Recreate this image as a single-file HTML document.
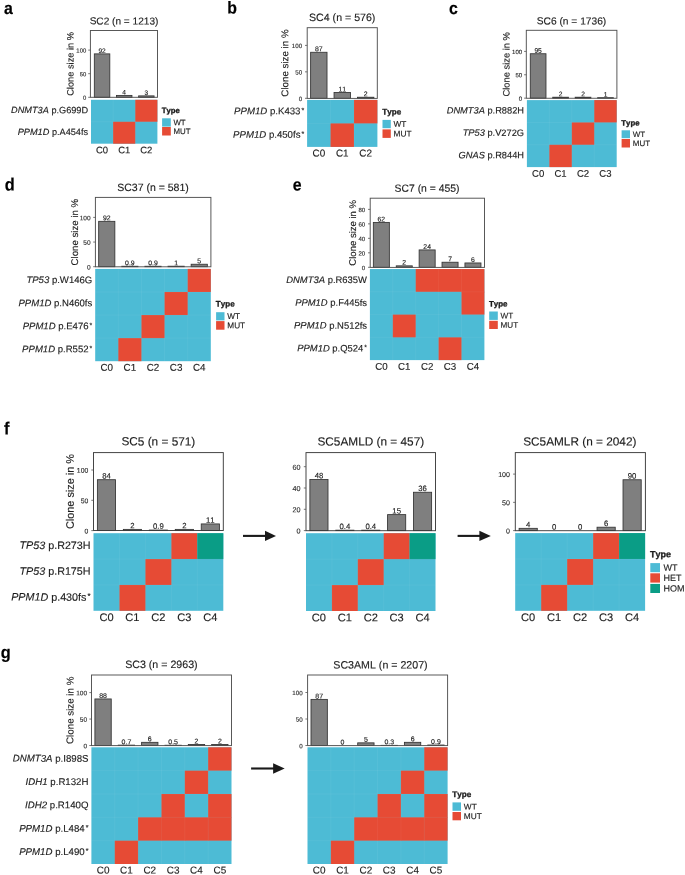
<!DOCTYPE html>
<html><head><meta charset="utf-8"><title>Figure</title>
<style>
html,body{margin:0;padding:0;background:#fff;}
svg{display:block;font-family:"Liberation Sans", sans-serif;}
text{text-rendering:geometricPrecision;stroke-linejoin:round;white-space:pre;filter:brightness(1);font-kerning:none;}
</style></head><body>
<svg width="685" height="875" viewBox="0 0 685 875">
<rect width="685" height="875" fill="#fff"/>
<text transform="translate(3.90,14.00) rotate(0.05) scale(0.96,1.04)" font-size="16.50" fill="#000" stroke="#000" stroke-width="0.19"><tspan font-weight="bold">a</tspan></text>
<text transform="translate(124.00,24.40) rotate(0.05)" font-size="10.10" text-anchor="middle" fill="#1c1c1c" stroke="#1c1c1c" stroke-width="0.14">SC2 (n = 1213)</text>
<rect x="91" y="99.8" width="66.4" height="43.9" fill="#4DBBD5"/>
<rect x="135.27" y="99.8" width="22.13" height="21.95" fill="#E64B35"/>
<rect x="113.13" y="121.75" width="22.13" height="21.95" fill="#E64B35"/>
<line x1="113.13" y1="99.8" x2="113.13" y2="143.7" stroke="#fff" stroke-opacity="0.05" stroke-width="1"/>
<line x1="135.27" y1="99.8" x2="135.27" y2="143.7" stroke="#fff" stroke-opacity="0.05" stroke-width="1"/>
<line x1="91" y1="121.75" x2="157.4" y2="121.75" stroke="#fff" stroke-opacity="0.05" stroke-width="1"/>
<rect x="94.32" y="53.88" width="15.49" height="43.42" fill="#7f7f7f" stroke="#333" stroke-width="0.85"/>
<text transform="translate(102.07,52.88) rotate(0.05)" font-size="6.61" text-anchor="middle" fill="#1c1c1c" stroke="#1c1c1c" stroke-width="0.14">92</text>
<rect x="116.45" y="95.41" width="15.49" height="1.89" fill="#7f7f7f" stroke="#333" stroke-width="0.85"/>
<text transform="translate(124.20,94.41) rotate(0.05)" font-size="6.61" text-anchor="middle" fill="#1c1c1c" stroke="#1c1c1c" stroke-width="0.14">4</text>
<rect x="138.59" y="95.88" width="15.49" height="1.42" fill="#7f7f7f" stroke="#333" stroke-width="0.85"/>
<text transform="translate(146.33,94.88) rotate(0.05)" font-size="6.61" text-anchor="middle" fill="#1c1c1c" stroke="#1c1c1c" stroke-width="0.14">3</text>
<rect x="90.4" y="30.5" width="67.1" height="66.8" fill="none" stroke="#505050" stroke-width="0.95"/>
<line x1="88.2" y1="97.3" x2="90.4" y2="97.3" stroke="#555" stroke-width="0.8"/>
<text transform="translate(86.20,99.82) rotate(0.05)" font-size="5.90" text-anchor="end" fill="#2e2e2e" stroke="#2e2e2e" stroke-width="0.14">0</text>
<line x1="88.2" y1="73.7" x2="90.4" y2="73.7" stroke="#555" stroke-width="0.8"/>
<text transform="translate(86.20,76.22) rotate(0.05)" font-size="5.90" text-anchor="end" fill="#2e2e2e" stroke="#2e2e2e" stroke-width="0.14">50</text>
<line x1="88.2" y1="50.1" x2="90.4" y2="50.1" stroke="#555" stroke-width="0.8"/>
<text transform="translate(86.20,52.62) rotate(0.05)" font-size="5.90" text-anchor="end" fill="#2e2e2e" stroke="#2e2e2e" stroke-width="0.14">100</text>
<text transform="translate(73.60,63.90) rotate(-89.95)" font-size="9.27" text-anchor="middle" fill="#1c1c1c" stroke="#1c1c1c" stroke-width="0.14">Clone size in %</text>
<text transform="translate(88.10,113.17) rotate(0.05)" font-size="9.18" text-anchor="end" fill="#1c1c1c" stroke="#1c1c1c" stroke-width="0.14"><tspan font-style="italic">DNMT3A</tspan> p.G699D</text>
<text transform="translate(88.10,135.12) rotate(0.05)" font-size="9.18" text-anchor="end" fill="#1c1c1c" stroke="#1c1c1c" stroke-width="0.14"><tspan font-style="italic">PPM1D</tspan> p.A454fs</text>
<text transform="translate(102.07,153.30) rotate(0.05)" font-size="9.46" text-anchor="middle" fill="#1c1c1c" stroke="#1c1c1c" stroke-width="0.14">C0</text>
<text transform="translate(124.20,153.30) rotate(0.05)" font-size="9.46" text-anchor="middle" fill="#1c1c1c" stroke="#1c1c1c" stroke-width="0.14">C1</text>
<text transform="translate(146.33,153.30) rotate(0.05)" font-size="9.46" text-anchor="middle" fill="#1c1c1c" stroke="#1c1c1c" stroke-width="0.14">C2</text>
<text transform="translate(161.85,113.00) rotate(0.05)" font-size="7.71" fill="#1c1c1c" stroke="#1c1c1c" stroke-width="0.34"><tspan font-weight="bold">Type</tspan></text>
<rect x="162.1" y="118.3" width="8.7" height="8.3" fill="#4DBBD5"/>
<text transform="translate(173.40,125.13) rotate(0.05)" font-size="7.89" fill="#1c1c1c" stroke="#1c1c1c" stroke-width="0.14">WT</text>
<rect x="162.1" y="127" width="8.7" height="8.5" fill="#E64B35"/>
<text transform="translate(173.40,133.93) rotate(0.05)" font-size="7.89" fill="#1c1c1c" stroke="#1c1c1c" stroke-width="0.14">MUT</text>
<text transform="translate(227.30,13.60) rotate(0.05) scale(0.96,1.04)" font-size="16.50" fill="#000" stroke="#000" stroke-width="0.19"><tspan font-weight="bold">b</tspan></text>
<text transform="translate(342.20,21.10) rotate(0.05)" font-size="10.62" text-anchor="middle" fill="#1c1c1c" stroke="#1c1c1c" stroke-width="0.14">SC4 (n = 576)</text>
<rect x="307.1" y="99.9" width="70.3" height="47" fill="#4DBBD5"/>
<rect x="353.97" y="99.9" width="23.43" height="23.5" fill="#E64B35"/>
<rect x="330.53" y="123.4" width="23.43" height="23.5" fill="#E64B35"/>
<line x1="330.53" y1="99.9" x2="330.53" y2="146.9" stroke="#fff" stroke-opacity="0.05" stroke-width="1"/>
<line x1="353.97" y1="99.9" x2="353.97" y2="146.9" stroke="#fff" stroke-opacity="0.05" stroke-width="1"/>
<line x1="307.1" y1="123.4" x2="377.4" y2="123.4" stroke="#fff" stroke-opacity="0.05" stroke-width="1"/>
<rect x="310.62" y="52.28" width="16.4" height="46.02" fill="#7f7f7f" stroke="#333" stroke-width="0.85"/>
<text transform="translate(318.82,51.28) rotate(0.05)" font-size="6.95" text-anchor="middle" fill="#1c1c1c" stroke="#1c1c1c" stroke-width="0.14">87</text>
<rect x="334.05" y="92.48" width="16.4" height="5.82" fill="#7f7f7f" stroke="#333" stroke-width="0.85"/>
<text transform="translate(342.25,91.48) rotate(0.05)" font-size="6.95" text-anchor="middle" fill="#1c1c1c" stroke="#1c1c1c" stroke-width="0.14">11</text>
<rect x="357.48" y="97.24" width="16.4" height="1.06" fill="#7f7f7f" stroke="#333" stroke-width="0.85"/>
<text transform="translate(365.68,96.24) rotate(0.05)" font-size="6.95" text-anchor="middle" fill="#1c1c1c" stroke="#1c1c1c" stroke-width="0.14">2</text>
<rect x="307.2" y="27.7" width="70.1" height="70.7" fill="none" stroke="#505050" stroke-width="0.95"/>
<line x1="305" y1="98.3" x2="307.2" y2="98.3" stroke="#555" stroke-width="0.8"/>
<text transform="translate(302.20,100.93) rotate(0.05)" font-size="6.20" text-anchor="end" fill="#2e2e2e" stroke="#2e2e2e" stroke-width="0.14">0</text>
<line x1="305" y1="71.85" x2="307.2" y2="71.85" stroke="#555" stroke-width="0.8"/>
<text transform="translate(302.20,74.48) rotate(0.05)" font-size="6.20" text-anchor="end" fill="#2e2e2e" stroke="#2e2e2e" stroke-width="0.14">50</text>
<line x1="305" y1="45.4" x2="307.2" y2="45.4" stroke="#555" stroke-width="0.8"/>
<text transform="translate(302.20,48.03) rotate(0.05)" font-size="6.20" text-anchor="end" fill="#2e2e2e" stroke="#2e2e2e" stroke-width="0.14">100</text>
<text transform="translate(288.30,63.05) rotate(-89.95)" font-size="9.75" text-anchor="middle" fill="#1c1c1c" stroke="#1c1c1c" stroke-width="0.14">Clone size in %</text>
<text transform="translate(304.13,114.35) rotate(0.05)" font-size="9.65" text-anchor="end" fill="#1c1c1c" stroke="#1c1c1c" stroke-width="0.14"><tspan font-style="italic">PPM1D</tspan> p.K433<tspan dx="0.98" dy="-1.93" font-size="6.95">*</tspan></text>
<text transform="translate(304.13,137.85) rotate(0.05)" font-size="9.65" text-anchor="end" fill="#1c1c1c" stroke="#1c1c1c" stroke-width="0.14"><tspan font-style="italic">PPM1D</tspan> p.450fs<tspan dx="0.98" dy="-1.93" font-size="6.95">*</tspan></text>
<text transform="translate(318.82,156.50) rotate(0.05)" font-size="9.94" text-anchor="middle" fill="#1c1c1c" stroke="#1c1c1c" stroke-width="0.14">C0</text>
<text transform="translate(342.25,156.50) rotate(0.05)" font-size="9.94" text-anchor="middle" fill="#1c1c1c" stroke="#1c1c1c" stroke-width="0.14">C1</text>
<text transform="translate(365.68,156.50) rotate(0.05)" font-size="9.94" text-anchor="middle" fill="#1c1c1c" stroke="#1c1c1c" stroke-width="0.14">C2</text>
<text transform="translate(382.25,114.40) rotate(0.05)" font-size="8.11" fill="#1c1c1c" stroke="#1c1c1c" stroke-width="0.34"><tspan font-weight="bold">Type</tspan></text>
<rect x="382.5" y="119.9" width="8.3" height="8.3" fill="#4DBBD5"/>
<text transform="translate(393.50,126.87) rotate(0.05)" font-size="8.30" fill="#1c1c1c" stroke="#1c1c1c" stroke-width="0.14">WT</text>
<rect x="382.5" y="129.4" width="8.3" height="8.5" fill="#E64B35"/>
<text transform="translate(393.50,136.47) rotate(0.05)" font-size="8.30" fill="#1c1c1c" stroke="#1c1c1c" stroke-width="0.14">MUT</text>
<text transform="translate(449.00,14.10) rotate(0.05) scale(0.96,1.04)" font-size="16.50" fill="#000" stroke="#000" stroke-width="0.19"><tspan font-weight="bold">c</tspan></text>
<text transform="translate(571.50,24.40) rotate(0.05)" font-size="10.20" text-anchor="middle" fill="#1c1c1c" stroke="#1c1c1c" stroke-width="0.14">SC6 (n = 1736)</text>
<rect x="526.9" y="100.1" width="89.8" height="67" fill="#4DBBD5"/>
<rect x="594.25" y="100.1" width="22.45" height="22.33" fill="#E64B35"/>
<rect x="571.8" y="122.43" width="22.45" height="22.33" fill="#E64B35"/>
<rect x="549.35" y="144.77" width="22.45" height="22.33" fill="#E64B35"/>
<line x1="549.35" y1="100.1" x2="549.35" y2="167.1" stroke="#fff" stroke-opacity="0.05" stroke-width="1"/>
<line x1="571.8" y1="100.1" x2="571.8" y2="167.1" stroke="#fff" stroke-opacity="0.05" stroke-width="1"/>
<line x1="594.25" y1="100.1" x2="594.25" y2="167.1" stroke="#fff" stroke-opacity="0.05" stroke-width="1"/>
<line x1="526.9" y1="122.43" x2="616.7" y2="122.43" stroke="#fff" stroke-opacity="0.05" stroke-width="1"/>
<line x1="526.9" y1="144.77" x2="616.7" y2="144.77" stroke="#fff" stroke-opacity="0.05" stroke-width="1"/>
<rect x="530.27" y="53.74" width="15.72" height="44.41" fill="#7f7f7f" stroke="#333" stroke-width="0.85"/>
<text transform="translate(538.12,52.74) rotate(0.05)" font-size="6.67" text-anchor="middle" fill="#1c1c1c" stroke="#1c1c1c" stroke-width="0.14">95</text>
<rect x="552.72" y="97.22" width="15.72" height="0.94" fill="#7f7f7f" stroke="#333" stroke-width="0.85"/>
<text transform="translate(560.58,96.22) rotate(0.05)" font-size="6.67" text-anchor="middle" fill="#1c1c1c" stroke="#1c1c1c" stroke-width="0.14">2</text>
<rect x="575.17" y="97.22" width="15.72" height="0.94" fill="#7f7f7f" stroke="#333" stroke-width="0.85"/>
<text transform="translate(583.02,96.22) rotate(0.05)" font-size="6.67" text-anchor="middle" fill="#1c1c1c" stroke="#1c1c1c" stroke-width="0.14">2</text>
<rect x="597.62" y="97.68" width="15.72" height="0.47" fill="#7f7f7f" stroke="#333" stroke-width="0.85"/>
<text transform="translate(605.48,96.68) rotate(0.05)" font-size="6.67" text-anchor="middle" fill="#1c1c1c" stroke="#1c1c1c" stroke-width="0.14">1</text>
<rect x="526.3" y="30.3" width="90.6" height="67.95" fill="none" stroke="#505050" stroke-width="0.95"/>
<line x1="524.1" y1="98.15" x2="526.3" y2="98.15" stroke="#555" stroke-width="0.8"/>
<text transform="translate(522.10,100.71) rotate(0.05)" font-size="6.00" text-anchor="end" fill="#2e2e2e" stroke="#2e2e2e" stroke-width="0.14">0</text>
<line x1="524.1" y1="74.78" x2="526.3" y2="74.78" stroke="#555" stroke-width="0.8"/>
<text transform="translate(522.10,77.34) rotate(0.05)" font-size="6.00" text-anchor="end" fill="#2e2e2e" stroke="#2e2e2e" stroke-width="0.14">50</text>
<line x1="524.1" y1="51.4" x2="526.3" y2="51.4" stroke="#555" stroke-width="0.8"/>
<text transform="translate(522.10,53.96) rotate(0.05)" font-size="6.00" text-anchor="end" fill="#2e2e2e" stroke="#2e2e2e" stroke-width="0.14">100</text>
<text transform="translate(509.60,64.28) rotate(-89.95)" font-size="9.36" text-anchor="middle" fill="#1c1c1c" stroke="#1c1c1c" stroke-width="0.14">Clone size in %</text>
<text transform="translate(524.00,113.57) rotate(0.05)" font-size="9.27" text-anchor="end" fill="#1c1c1c" stroke="#1c1c1c" stroke-width="0.14"><tspan font-style="italic">DNMT3A</tspan> p.R882H</text>
<text transform="translate(524.00,135.90) rotate(0.05)" font-size="9.27" text-anchor="end" fill="#1c1c1c" stroke="#1c1c1c" stroke-width="0.14"><tspan font-style="italic">TP53</tspan> p.V272G</text>
<text transform="translate(524.00,158.23) rotate(0.05)" font-size="9.27" text-anchor="end" fill="#1c1c1c" stroke="#1c1c1c" stroke-width="0.14"><tspan font-style="italic">GNAS</tspan> p.R844H</text>
<text transform="translate(538.12,176.70) rotate(0.05)" font-size="9.55" text-anchor="middle" fill="#1c1c1c" stroke="#1c1c1c" stroke-width="0.14">C0</text>
<text transform="translate(560.58,176.70) rotate(0.05)" font-size="9.55" text-anchor="middle" fill="#1c1c1c" stroke="#1c1c1c" stroke-width="0.14">C1</text>
<text transform="translate(583.02,176.70) rotate(0.05)" font-size="9.55" text-anchor="middle" fill="#1c1c1c" stroke="#1c1c1c" stroke-width="0.14">C2</text>
<text transform="translate(605.48,176.70) rotate(0.05)" font-size="9.55" text-anchor="middle" fill="#1c1c1c" stroke="#1c1c1c" stroke-width="0.14">C3</text>
<text transform="translate(621.35,125.50) rotate(0.05)" font-size="7.79" fill="#1c1c1c" stroke="#1c1c1c" stroke-width="0.34"><tspan font-weight="bold">Type</tspan></text>
<rect x="621.6" y="130.3" width="8.4" height="7.9" fill="#4DBBD5"/>
<text transform="translate(632.80,136.96) rotate(0.05)" font-size="7.97" fill="#1c1c1c" stroke="#1c1c1c" stroke-width="0.14">WT</text>
<rect x="621.6" y="139" width="8.4" height="8.5" fill="#E64B35"/>
<text transform="translate(632.80,145.96) rotate(0.05)" font-size="7.97" fill="#1c1c1c" stroke="#1c1c1c" stroke-width="0.14">MUT</text>
<text transform="translate(4.80,190.40) rotate(0.05) scale(0.96,1.04)" font-size="17.00" fill="#000" stroke="#000" stroke-width="0.19"><tspan font-weight="bold">d</tspan></text>
<text transform="translate(153.00,191.10) rotate(0.05)" font-size="10.53" text-anchor="middle" fill="#1c1c1c" stroke="#1c1c1c" stroke-width="0.14">SC37 (n = 581)</text>
<rect x="95.2" y="268.9" width="115.6" height="92.3" fill="#4DBBD5"/>
<rect x="187.68" y="268.9" width="23.12" height="23.08" fill="#E64B35"/>
<rect x="164.56" y="291.97" width="23.12" height="23.08" fill="#E64B35"/>
<rect x="141.44" y="315.05" width="23.12" height="23.08" fill="#E64B35"/>
<rect x="118.32" y="338.12" width="23.12" height="23.08" fill="#E64B35"/>
<line x1="118.32" y1="268.9" x2="118.32" y2="361.2" stroke="#fff" stroke-opacity="0.05" stroke-width="1"/>
<line x1="141.44" y1="268.9" x2="141.44" y2="361.2" stroke="#fff" stroke-opacity="0.05" stroke-width="1"/>
<line x1="164.56" y1="268.9" x2="164.56" y2="361.2" stroke="#fff" stroke-opacity="0.05" stroke-width="1"/>
<line x1="187.68" y1="268.9" x2="187.68" y2="361.2" stroke="#fff" stroke-opacity="0.05" stroke-width="1"/>
<line x1="95.2" y1="291.97" x2="210.8" y2="291.97" stroke="#fff" stroke-opacity="0.05" stroke-width="1"/>
<line x1="95.2" y1="315.05" x2="210.8" y2="315.05" stroke="#fff" stroke-opacity="0.05" stroke-width="1"/>
<line x1="95.2" y1="338.12" x2="210.8" y2="338.12" stroke="#fff" stroke-opacity="0.05" stroke-width="1"/>
<rect x="98.67" y="221.34" width="16.18" height="45.36" fill="#7f7f7f" stroke="#333" stroke-width="0.85"/>
<text transform="translate(106.76,220.34) rotate(0.05)" font-size="6.89" text-anchor="middle" fill="#1c1c1c" stroke="#1c1c1c" stroke-width="0.14">92</text>
<rect x="121.79" y="266.26" width="16.18" height="0.44" fill="#7f7f7f" stroke="#333" stroke-width="0.85"/>
<text transform="translate(129.88,265.26) rotate(0.05)" font-size="6.89" text-anchor="middle" fill="#1c1c1c" stroke="#1c1c1c" stroke-width="0.14">0.9</text>
<rect x="144.91" y="266.26" width="16.18" height="0.44" fill="#7f7f7f" stroke="#333" stroke-width="0.85"/>
<text transform="translate(153.00,265.26) rotate(0.05)" font-size="6.89" text-anchor="middle" fill="#1c1c1c" stroke="#1c1c1c" stroke-width="0.14">0.9</text>
<rect x="168.03" y="266.21" width="16.18" height="0.49" fill="#7f7f7f" stroke="#333" stroke-width="0.85"/>
<text transform="translate(176.12,265.21) rotate(0.05)" font-size="6.89" text-anchor="middle" fill="#1c1c1c" stroke="#1c1c1c" stroke-width="0.14">1</text>
<rect x="191.15" y="264.24" width="16.18" height="2.46" fill="#7f7f7f" stroke="#333" stroke-width="0.85"/>
<text transform="translate(199.24,263.24) rotate(0.05)" font-size="6.89" text-anchor="middle" fill="#1c1c1c" stroke="#1c1c1c" stroke-width="0.14">5</text>
<rect x="95.4" y="197.4" width="115.5" height="69.4" fill="none" stroke="#505050" stroke-width="0.95"/>
<line x1="93.2" y1="266.7" x2="95.4" y2="266.7" stroke="#555" stroke-width="0.8"/>
<text transform="translate(90.60,269.44) rotate(0.05)" font-size="6.50" text-anchor="end" fill="#2e2e2e" stroke="#2e2e2e" stroke-width="0.14">0</text>
<line x1="93.2" y1="242.05" x2="95.4" y2="242.05" stroke="#555" stroke-width="0.8"/>
<text transform="translate(90.60,244.79) rotate(0.05)" font-size="6.50" text-anchor="end" fill="#2e2e2e" stroke="#2e2e2e" stroke-width="0.14">50</text>
<line x1="93.2" y1="217.4" x2="95.4" y2="217.4" stroke="#555" stroke-width="0.8"/>
<text transform="translate(90.60,220.14) rotate(0.05)" font-size="6.50" text-anchor="end" fill="#2e2e2e" stroke="#2e2e2e" stroke-width="0.14">100</text>
<text transform="translate(78.00,232.10) rotate(-89.95)" font-size="9.67" text-anchor="middle" fill="#1c1c1c" stroke="#1c1c1c" stroke-width="0.14">Clone size in %</text>
<text transform="translate(92.30,283.14) rotate(0.05)" font-size="9.57" text-anchor="end" fill="#1c1c1c" stroke="#1c1c1c" stroke-width="0.14"><tspan font-style="italic">TP53</tspan> p.W146G</text>
<text transform="translate(92.30,306.21) rotate(0.05)" font-size="9.57" text-anchor="end" fill="#1c1c1c" stroke="#1c1c1c" stroke-width="0.14"><tspan font-style="italic">PPM1D</tspan> p.N460fs</text>
<text transform="translate(92.23,329.29) rotate(0.05)" font-size="9.57" text-anchor="end" fill="#1c1c1c" stroke="#1c1c1c" stroke-width="0.14"><tspan font-style="italic">PPM1D</tspan> p.E476<tspan dx="0.97" dy="-1.92" font-size="6.89">*</tspan></text>
<text transform="translate(92.23,352.36) rotate(0.05)" font-size="9.57" text-anchor="end" fill="#1c1c1c" stroke="#1c1c1c" stroke-width="0.14"><tspan font-style="italic">PPM1D</tspan> p.R552<tspan dx="0.97" dy="-1.92" font-size="6.89">*</tspan></text>
<text transform="translate(106.76,370.80) rotate(0.05)" font-size="9.86" text-anchor="middle" fill="#1c1c1c" stroke="#1c1c1c" stroke-width="0.14">C0</text>
<text transform="translate(129.88,370.80) rotate(0.05)" font-size="9.86" text-anchor="middle" fill="#1c1c1c" stroke="#1c1c1c" stroke-width="0.14">C1</text>
<text transform="translate(153.00,370.80) rotate(0.05)" font-size="9.86" text-anchor="middle" fill="#1c1c1c" stroke="#1c1c1c" stroke-width="0.14">C2</text>
<text transform="translate(176.12,370.80) rotate(0.05)" font-size="9.86" text-anchor="middle" fill="#1c1c1c" stroke="#1c1c1c" stroke-width="0.14">C3</text>
<text transform="translate(199.24,370.80) rotate(0.05)" font-size="9.86" text-anchor="middle" fill="#1c1c1c" stroke="#1c1c1c" stroke-width="0.14">C4</text>
<text transform="translate(215.85,306.40) rotate(0.05)" font-size="8.04" fill="#1c1c1c" stroke="#1c1c1c" stroke-width="0.34"><tspan font-weight="bold">Type</tspan></text>
<rect x="216.1" y="312.2" width="8.4" height="8.2" fill="#4DBBD5"/>
<text transform="translate(227.30,319.10) rotate(0.05)" font-size="8.23" fill="#1c1c1c" stroke="#1c1c1c" stroke-width="0.14">WT</text>
<rect x="216.1" y="321.1" width="8.4" height="8.6" fill="#E64B35"/>
<text transform="translate(227.30,328.20) rotate(0.05)" font-size="8.23" fill="#1c1c1c" stroke="#1c1c1c" stroke-width="0.14">MUT</text>
<text transform="translate(292.70,190.40) rotate(0.05) scale(0.96,1.04)" font-size="16.50" fill="#000" stroke="#000" stroke-width="0.19"><tspan font-weight="bold">e</tspan></text>
<text transform="translate(427.00,191.80) rotate(0.05)" font-size="10.39" text-anchor="middle" fill="#1c1c1c" stroke="#1c1c1c" stroke-width="0.14">SC7 (n = 455)</text>
<rect x="369.9" y="269.05" width="114.5" height="91.05" fill="#4DBBD5"/>
<rect x="415.7" y="269.05" width="23.4" height="22.76" fill="#E64B35"/>
<rect x="438.6" y="269.05" width="23.4" height="22.76" fill="#E64B35"/>
<rect x="461.5" y="269.05" width="22.9" height="23.26" fill="#E64B35"/>
<rect x="461.5" y="291.81" width="22.9" height="22.76" fill="#E64B35"/>
<rect x="392.8" y="314.58" width="22.9" height="22.76" fill="#E64B35"/>
<rect x="438.6" y="337.34" width="22.9" height="22.76" fill="#E64B35"/>
<line x1="392.8" y1="269.05" x2="392.8" y2="360.1" stroke="#fff" stroke-opacity="0.05" stroke-width="1"/>
<line x1="415.7" y1="269.05" x2="415.7" y2="360.1" stroke="#fff" stroke-opacity="0.05" stroke-width="1"/>
<line x1="438.6" y1="269.05" x2="438.6" y2="360.1" stroke="#fff" stroke-opacity="0.05" stroke-width="1"/>
<line x1="461.5" y1="269.05" x2="461.5" y2="360.1" stroke="#fff" stroke-opacity="0.05" stroke-width="1"/>
<line x1="369.9" y1="291.81" x2="484.4" y2="291.81" stroke="#fff" stroke-opacity="0.05" stroke-width="1"/>
<line x1="369.9" y1="314.58" x2="484.4" y2="314.58" stroke="#fff" stroke-opacity="0.05" stroke-width="1"/>
<line x1="369.9" y1="337.34" x2="484.4" y2="337.34" stroke="#fff" stroke-opacity="0.05" stroke-width="1"/>
<rect x="373.33" y="222.41" width="16.03" height="44.89" fill="#7f7f7f" stroke="#333" stroke-width="0.85"/>
<text transform="translate(381.35,221.41) rotate(0.05)" font-size="6.80" text-anchor="middle" fill="#1c1c1c" stroke="#1c1c1c" stroke-width="0.14">62</text>
<rect x="396.24" y="265.85" width="16.03" height="1.45" fill="#7f7f7f" stroke="#333" stroke-width="0.85"/>
<text transform="translate(404.25,264.85) rotate(0.05)" font-size="6.80" text-anchor="middle" fill="#1c1c1c" stroke="#1c1c1c" stroke-width="0.14">2</text>
<rect x="419.13" y="249.92" width="16.03" height="17.38" fill="#7f7f7f" stroke="#333" stroke-width="0.85"/>
<text transform="translate(427.15,248.92) rotate(0.05)" font-size="6.80" text-anchor="middle" fill="#1c1c1c" stroke="#1c1c1c" stroke-width="0.14">24</text>
<rect x="442.03" y="262.23" width="16.03" height="5.07" fill="#7f7f7f" stroke="#333" stroke-width="0.85"/>
<text transform="translate(450.05,261.23) rotate(0.05)" font-size="6.80" text-anchor="middle" fill="#1c1c1c" stroke="#1c1c1c" stroke-width="0.14">7</text>
<rect x="464.94" y="262.96" width="16.03" height="4.34" fill="#7f7f7f" stroke="#333" stroke-width="0.85"/>
<text transform="translate(472.95,261.96) rotate(0.05)" font-size="6.80" text-anchor="middle" fill="#1c1c1c" stroke="#1c1c1c" stroke-width="0.14">6</text>
<rect x="370.2" y="198.2" width="114.3" height="69.2" fill="none" stroke="#505050" stroke-width="0.95"/>
<line x1="368" y1="267.3" x2="370.2" y2="267.3" stroke="#555" stroke-width="0.8"/>
<text transform="translate(365.20,269.90) rotate(0.05)" font-size="6.10" text-anchor="end" fill="#2e2e2e" stroke="#2e2e2e" stroke-width="0.14">0</text>
<line x1="368" y1="252.82" x2="370.2" y2="252.82" stroke="#555" stroke-width="0.8"/>
<text transform="translate(365.20,255.42) rotate(0.05)" font-size="6.10" text-anchor="end" fill="#2e2e2e" stroke="#2e2e2e" stroke-width="0.14">20</text>
<line x1="368" y1="238.34" x2="370.2" y2="238.34" stroke="#555" stroke-width="0.8"/>
<text transform="translate(365.20,240.94) rotate(0.05)" font-size="6.10" text-anchor="end" fill="#2e2e2e" stroke="#2e2e2e" stroke-width="0.14">40</text>
<line x1="368" y1="223.86" x2="370.2" y2="223.86" stroke="#555" stroke-width="0.8"/>
<text transform="translate(365.20,226.46) rotate(0.05)" font-size="6.10" text-anchor="end" fill="#2e2e2e" stroke="#2e2e2e" stroke-width="0.14">60</text>
<line x1="368" y1="209.38" x2="370.2" y2="209.38" stroke="#555" stroke-width="0.8"/>
<text transform="translate(365.20,211.98) rotate(0.05)" font-size="6.10" text-anchor="end" fill="#2e2e2e" stroke="#2e2e2e" stroke-width="0.14">80</text>
<text transform="translate(355.90,232.80) rotate(-89.95)" font-size="9.54" text-anchor="middle" fill="#1c1c1c" stroke="#1c1c1c" stroke-width="0.14">Clone size in %</text>
<text transform="translate(367.00,283.13) rotate(0.05)" font-size="9.45" text-anchor="end" fill="#1c1c1c" stroke="#1c1c1c" stroke-width="0.14"><tspan font-style="italic">DNMT3A</tspan> p.R635W</text>
<text transform="translate(367.00,305.89) rotate(0.05)" font-size="9.45" text-anchor="end" fill="#1c1c1c" stroke="#1c1c1c" stroke-width="0.14"><tspan font-style="italic">PPM1D</tspan> p.F445fs</text>
<text transform="translate(367.00,328.66) rotate(0.05)" font-size="9.45" text-anchor="end" fill="#1c1c1c" stroke="#1c1c1c" stroke-width="0.14"><tspan font-style="italic">PPM1D</tspan> p.N512fs</text>
<text transform="translate(366.93,351.42) rotate(0.05)" font-size="9.45" text-anchor="end" fill="#1c1c1c" stroke="#1c1c1c" stroke-width="0.14"><tspan font-style="italic">PPM1D</tspan> p.Q524<tspan dx="0.96" dy="-1.89" font-size="6.80">*</tspan></text>
<text transform="translate(381.35,369.70) rotate(0.05)" font-size="9.73" text-anchor="middle" fill="#1c1c1c" stroke="#1c1c1c" stroke-width="0.14">C0</text>
<text transform="translate(404.25,369.70) rotate(0.05)" font-size="9.73" text-anchor="middle" fill="#1c1c1c" stroke="#1c1c1c" stroke-width="0.14">C1</text>
<text transform="translate(427.15,369.70) rotate(0.05)" font-size="9.73" text-anchor="middle" fill="#1c1c1c" stroke="#1c1c1c" stroke-width="0.14">C2</text>
<text transform="translate(450.05,369.70) rotate(0.05)" font-size="9.73" text-anchor="middle" fill="#1c1c1c" stroke="#1c1c1c" stroke-width="0.14">C3</text>
<text transform="translate(472.95,369.70) rotate(0.05)" font-size="9.73" text-anchor="middle" fill="#1c1c1c" stroke="#1c1c1c" stroke-width="0.14">C4</text>
<text transform="translate(488.95,306.40) rotate(0.05)" font-size="7.94" fill="#1c1c1c" stroke="#1c1c1c" stroke-width="0.34"><tspan font-weight="bold">Type</tspan></text>
<rect x="489.2" y="311.5" width="8.6" height="8.4" fill="#4DBBD5"/>
<text transform="translate(500.60,318.46) rotate(0.05)" font-size="8.13" fill="#1c1c1c" stroke="#1c1c1c" stroke-width="0.14">WT</text>
<rect x="489.2" y="320.8" width="8.6" height="8.2" fill="#E64B35"/>
<text transform="translate(500.60,327.66) rotate(0.05)" font-size="8.13" fill="#1c1c1c" stroke="#1c1c1c" stroke-width="0.14">MUT</text>
<text transform="translate(3.95,434.50) rotate(0.05) scale(0.96,1.04)" font-size="17.00" fill="#000" stroke="#000" stroke-width="0.19"><tspan font-weight="bold">f</tspan></text>
<text transform="translate(158.35,445.40) rotate(0.05)" font-size="11.82" text-anchor="middle" fill="#1c1c1c" stroke="#1c1c1c" stroke-width="0.14">SC5 (n = 571)</text>
<rect x="93.5" y="533.2" width="129.8" height="77.6" fill="#4DBBD5"/>
<rect x="171.38" y="533.2" width="25.96" height="25.87" fill="#E64B35"/>
<rect x="197.34" y="533.2" width="25.96" height="25.87" fill="#0A9D86"/>
<rect x="145.42" y="559.07" width="25.96" height="25.87" fill="#E64B35"/>
<rect x="119.46" y="584.93" width="25.96" height="25.87" fill="#E64B35"/>
<line x1="119.46" y1="533.2" x2="119.46" y2="610.8" stroke="#fff" stroke-opacity="0.05" stroke-width="1"/>
<line x1="145.42" y1="533.2" x2="145.42" y2="610.8" stroke="#fff" stroke-opacity="0.05" stroke-width="1"/>
<line x1="171.38" y1="533.2" x2="171.38" y2="610.8" stroke="#fff" stroke-opacity="0.05" stroke-width="1"/>
<line x1="197.34" y1="533.2" x2="197.34" y2="610.8" stroke="#fff" stroke-opacity="0.05" stroke-width="1"/>
<line x1="93.5" y1="559.07" x2="223.3" y2="559.07" stroke="#fff" stroke-opacity="0.05" stroke-width="1"/>
<line x1="93.5" y1="584.93" x2="223.3" y2="584.93" stroke="#fff" stroke-opacity="0.05" stroke-width="1"/>
<rect x="97.39" y="479.7" width="18.17" height="50.9" fill="#7f7f7f" stroke="#333" stroke-width="0.85"/>
<text transform="translate(106.48,478.50) rotate(0.05)" font-size="7.74" text-anchor="middle" fill="#1c1c1c" stroke="#1c1c1c" stroke-width="0.14">84</text>
<rect x="123.35" y="529.39" width="18.17" height="1.21" fill="#7f7f7f" stroke="#333" stroke-width="0.85"/>
<text transform="translate(132.44,528.19) rotate(0.05)" font-size="7.74" text-anchor="middle" fill="#1c1c1c" stroke="#1c1c1c" stroke-width="0.14">2</text>
<rect x="149.31" y="530.05" width="18.17" height="0.55" fill="#7f7f7f" stroke="#333" stroke-width="0.85"/>
<text transform="translate(158.40,528.85) rotate(0.05)" font-size="7.74" text-anchor="middle" fill="#1c1c1c" stroke="#1c1c1c" stroke-width="0.14">0.9</text>
<rect x="175.27" y="529.39" width="18.17" height="1.21" fill="#7f7f7f" stroke="#333" stroke-width="0.85"/>
<text transform="translate(184.36,528.19) rotate(0.05)" font-size="7.74" text-anchor="middle" fill="#1c1c1c" stroke="#1c1c1c" stroke-width="0.14">2</text>
<rect x="201.23" y="523.93" width="18.17" height="6.67" fill="#7f7f7f" stroke="#333" stroke-width="0.85"/>
<text transform="translate(210.32,522.73) rotate(0.05)" font-size="7.74" text-anchor="middle" fill="#1c1c1c" stroke="#1c1c1c" stroke-width="0.14">11</text>
<rect x="93.5" y="452.6" width="129.8" height="77.9" fill="none" stroke="#3c3c3c" stroke-width="0.95"/>
<line x1="91.3" y1="530.6" x2="93.5" y2="530.6" stroke="#555" stroke-width="0.8"/>
<text transform="translate(88.20,533.45) rotate(0.05)" font-size="6.80" text-anchor="end" fill="#2e2e2e" stroke="#2e2e2e" stroke-width="0.14">0</text>
<line x1="91.3" y1="500.3" x2="93.5" y2="500.3" stroke="#555" stroke-width="0.8"/>
<text transform="translate(88.20,503.15) rotate(0.05)" font-size="6.80" text-anchor="end" fill="#2e2e2e" stroke="#2e2e2e" stroke-width="0.14">50</text>
<line x1="91.3" y1="470" x2="93.5" y2="470" stroke="#555" stroke-width="0.8"/>
<text transform="translate(88.20,472.85) rotate(0.05)" font-size="6.80" text-anchor="end" fill="#2e2e2e" stroke="#2e2e2e" stroke-width="0.14">100</text>
<text transform="translate(73.70,491.55) rotate(-89.95)" font-size="10.86" text-anchor="middle" fill="#1c1c1c" stroke="#1c1c1c" stroke-width="0.14">Clone size in %</text>
<text transform="translate(90.60,548.93) rotate(0.05)" font-size="10.75" text-anchor="end" fill="#1c1c1c" stroke="#1c1c1c" stroke-width="0.14"><tspan font-style="italic">TP53</tspan> p.R273H</text>
<text transform="translate(90.60,574.80) rotate(0.05)" font-size="10.75" text-anchor="end" fill="#1c1c1c" stroke="#1c1c1c" stroke-width="0.14"><tspan font-style="italic">TP53</tspan> p.R175H</text>
<text transform="translate(90.52,600.67) rotate(0.05)" font-size="10.75" text-anchor="end" fill="#1c1c1c" stroke="#1c1c1c" stroke-width="0.14"><tspan font-style="italic">PPM1D</tspan> p.430fs<tspan dx="1.09" dy="-2.15" font-size="7.74">*</tspan></text>
<text transform="translate(106.48,621.10) rotate(0.05)" font-size="11.07" text-anchor="middle" fill="#1c1c1c" stroke="#1c1c1c" stroke-width="0.14">C0</text>
<text transform="translate(132.44,621.10) rotate(0.05)" font-size="11.07" text-anchor="middle" fill="#1c1c1c" stroke="#1c1c1c" stroke-width="0.14">C1</text>
<text transform="translate(158.40,621.10) rotate(0.05)" font-size="11.07" text-anchor="middle" fill="#1c1c1c" stroke="#1c1c1c" stroke-width="0.14">C2</text>
<text transform="translate(184.36,621.10) rotate(0.05)" font-size="11.07" text-anchor="middle" fill="#1c1c1c" stroke="#1c1c1c" stroke-width="0.14">C3</text>
<text transform="translate(210.32,621.10) rotate(0.05)" font-size="11.07" text-anchor="middle" fill="#1c1c1c" stroke="#1c1c1c" stroke-width="0.14">C4</text>
<text transform="translate(370.80,445.50) rotate(0.05)" font-size="11.82" text-anchor="middle" fill="#1c1c1c" stroke="#1c1c1c" stroke-width="0.14">SC5AMLD (n = 457)</text>
<rect x="306" y="533.2" width="129.5" height="77.8" fill="#4DBBD5"/>
<rect x="383.7" y="533.2" width="25.9" height="25.93" fill="#E64B35"/>
<rect x="409.6" y="533.2" width="25.9" height="25.93" fill="#0A9D86"/>
<rect x="357.8" y="559.13" width="25.9" height="25.93" fill="#E64B35"/>
<rect x="331.9" y="585.07" width="25.9" height="25.93" fill="#E64B35"/>
<line x1="331.9" y1="533.2" x2="331.9" y2="611" stroke="#fff" stroke-opacity="0.05" stroke-width="1"/>
<line x1="357.8" y1="533.2" x2="357.8" y2="611" stroke="#fff" stroke-opacity="0.05" stroke-width="1"/>
<line x1="383.7" y1="533.2" x2="383.7" y2="611" stroke="#fff" stroke-opacity="0.05" stroke-width="1"/>
<line x1="409.6" y1="533.2" x2="409.6" y2="611" stroke="#fff" stroke-opacity="0.05" stroke-width="1"/>
<line x1="306" y1="559.13" x2="435.5" y2="559.13" stroke="#fff" stroke-opacity="0.05" stroke-width="1"/>
<line x1="306" y1="585.07" x2="435.5" y2="585.07" stroke="#fff" stroke-opacity="0.05" stroke-width="1"/>
<rect x="309.88" y="479.48" width="18.13" height="51.12" fill="#7f7f7f" stroke="#333" stroke-width="0.85"/>
<text transform="translate(318.95,478.28) rotate(0.05)" font-size="7.74" text-anchor="middle" fill="#1c1c1c" stroke="#1c1c1c" stroke-width="0.14">48</text>
<rect x="335.79" y="530.17" width="18.13" height="0.43" fill="#7f7f7f" stroke="#333" stroke-width="0.85"/>
<text transform="translate(344.85,528.97) rotate(0.05)" font-size="7.74" text-anchor="middle" fill="#1c1c1c" stroke="#1c1c1c" stroke-width="0.14">0.4</text>
<rect x="361.69" y="530.17" width="18.13" height="0.43" fill="#7f7f7f" stroke="#333" stroke-width="0.85"/>
<text transform="translate(370.75,528.97) rotate(0.05)" font-size="7.74" text-anchor="middle" fill="#1c1c1c" stroke="#1c1c1c" stroke-width="0.14">0.4</text>
<rect x="387.58" y="514.62" width="18.13" height="15.98" fill="#7f7f7f" stroke="#333" stroke-width="0.85"/>
<text transform="translate(396.65,513.42) rotate(0.05)" font-size="7.74" text-anchor="middle" fill="#1c1c1c" stroke="#1c1c1c" stroke-width="0.14">15</text>
<rect x="413.49" y="492.26" width="18.13" height="38.34" fill="#7f7f7f" stroke="#333" stroke-width="0.85"/>
<text transform="translate(422.55,491.06) rotate(0.05)" font-size="7.74" text-anchor="middle" fill="#1c1c1c" stroke="#1c1c1c" stroke-width="0.14">36</text>
<rect x="306.0" y="452.6" width="129.5" height="78.1" fill="none" stroke="#3c3c3c" stroke-width="0.95"/>
<line x1="303.8" y1="530.6" x2="306.0" y2="530.6" stroke="#555" stroke-width="0.8"/>
<text transform="translate(300.50,533.59) rotate(0.05)" font-size="7.20" text-anchor="end" fill="#2e2e2e" stroke="#2e2e2e" stroke-width="0.14">0</text>
<line x1="303.8" y1="509.3" x2="306.0" y2="509.3" stroke="#555" stroke-width="0.8"/>
<text transform="translate(300.50,512.29) rotate(0.05)" font-size="7.20" text-anchor="end" fill="#2e2e2e" stroke="#2e2e2e" stroke-width="0.14">20</text>
<line x1="303.8" y1="488" x2="306.0" y2="488" stroke="#555" stroke-width="0.8"/>
<text transform="translate(300.50,490.99) rotate(0.05)" font-size="7.20" text-anchor="end" fill="#2e2e2e" stroke="#2e2e2e" stroke-width="0.14">40</text>
<line x1="303.8" y1="466.7" x2="306.0" y2="466.7" stroke="#555" stroke-width="0.8"/>
<text transform="translate(300.50,469.69) rotate(0.05)" font-size="7.20" text-anchor="end" fill="#2e2e2e" stroke="#2e2e2e" stroke-width="0.14">60</text>
<text transform="translate(318.95,621.30) rotate(0.05)" font-size="11.07" text-anchor="middle" fill="#1c1c1c" stroke="#1c1c1c" stroke-width="0.14">C0</text>
<text transform="translate(344.85,621.30) rotate(0.05)" font-size="11.07" text-anchor="middle" fill="#1c1c1c" stroke="#1c1c1c" stroke-width="0.14">C1</text>
<text transform="translate(370.75,621.30) rotate(0.05)" font-size="11.07" text-anchor="middle" fill="#1c1c1c" stroke="#1c1c1c" stroke-width="0.14">C2</text>
<text transform="translate(396.65,621.30) rotate(0.05)" font-size="11.07" text-anchor="middle" fill="#1c1c1c" stroke="#1c1c1c" stroke-width="0.14">C3</text>
<text transform="translate(422.55,621.30) rotate(0.05)" font-size="11.07" text-anchor="middle" fill="#1c1c1c" stroke="#1c1c1c" stroke-width="0.14">C4</text>
<text transform="translate(579.80,445.50) rotate(0.05)" font-size="11.82" text-anchor="middle" fill="#1c1c1c" stroke="#1c1c1c" stroke-width="0.14">SC5AMLR (n = 2042)</text>
<rect x="515.2" y="533.1" width="129.9" height="77.7" fill="#4DBBD5"/>
<rect x="593.14" y="533.1" width="25.98" height="25.9" fill="#E64B35"/>
<rect x="619.12" y="533.1" width="25.98" height="25.9" fill="#0A9D86"/>
<rect x="567.16" y="559" width="25.98" height="25.9" fill="#E64B35"/>
<rect x="541.18" y="584.9" width="25.98" height="25.9" fill="#E64B35"/>
<line x1="541.18" y1="533.1" x2="541.18" y2="610.8" stroke="#fff" stroke-opacity="0.05" stroke-width="1"/>
<line x1="567.16" y1="533.1" x2="567.16" y2="610.8" stroke="#fff" stroke-opacity="0.05" stroke-width="1"/>
<line x1="593.14" y1="533.1" x2="593.14" y2="610.8" stroke="#fff" stroke-opacity="0.05" stroke-width="1"/>
<line x1="619.12" y1="533.1" x2="619.12" y2="610.8" stroke="#fff" stroke-opacity="0.05" stroke-width="1"/>
<line x1="515.2" y1="559" x2="645.1" y2="559" stroke="#fff" stroke-opacity="0.05" stroke-width="1"/>
<line x1="515.2" y1="584.9" x2="645.1" y2="584.9" stroke="#fff" stroke-opacity="0.05" stroke-width="1"/>
<rect x="519.1" y="528.34" width="18.19" height="2.26" fill="#7f7f7f" stroke="#333" stroke-width="0.85"/>
<text transform="translate(528.19,527.14) rotate(0.05)" font-size="7.74" text-anchor="middle" fill="#1c1c1c" stroke="#1c1c1c" stroke-width="0.14">4</text>
<rect x="545.08" y="530.6" width="18.19" height="0" fill="#7f7f7f" stroke="#333" stroke-width="0.85"/>
<text transform="translate(554.17,529.40) rotate(0.05)" font-size="7.74" text-anchor="middle" fill="#1c1c1c" stroke="#1c1c1c" stroke-width="0.14">0</text>
<rect x="571.06" y="530.6" width="18.19" height="0" fill="#7f7f7f" stroke="#333" stroke-width="0.85"/>
<text transform="translate(580.15,529.40) rotate(0.05)" font-size="7.74" text-anchor="middle" fill="#1c1c1c" stroke="#1c1c1c" stroke-width="0.14">0</text>
<rect x="597.04" y="527.21" width="18.19" height="3.39" fill="#7f7f7f" stroke="#333" stroke-width="0.85"/>
<text transform="translate(606.13,526.01) rotate(0.05)" font-size="7.74" text-anchor="middle" fill="#1c1c1c" stroke="#1c1c1c" stroke-width="0.14">6</text>
<rect x="623.02" y="479.75" width="18.19" height="50.85" fill="#7f7f7f" stroke="#333" stroke-width="0.85"/>
<text transform="translate(632.11,478.55) rotate(0.05)" font-size="7.74" text-anchor="middle" fill="#1c1c1c" stroke="#1c1c1c" stroke-width="0.14">90</text>
<rect x="515.3" y="452.6" width="130.1" height="78.1" fill="none" stroke="#3c3c3c" stroke-width="0.95"/>
<line x1="513.1" y1="530.6" x2="515.3" y2="530.6" stroke="#555" stroke-width="0.8"/>
<text transform="translate(510.00,533.56) rotate(0.05)" font-size="7.10" text-anchor="end" fill="#2e2e2e" stroke="#2e2e2e" stroke-width="0.14">0</text>
<line x1="513.1" y1="502.35" x2="515.3" y2="502.35" stroke="#555" stroke-width="0.8"/>
<text transform="translate(510.00,505.31) rotate(0.05)" font-size="7.10" text-anchor="end" fill="#2e2e2e" stroke="#2e2e2e" stroke-width="0.14">50</text>
<line x1="513.1" y1="474.1" x2="515.3" y2="474.1" stroke="#555" stroke-width="0.8"/>
<text transform="translate(510.00,477.06) rotate(0.05)" font-size="7.10" text-anchor="end" fill="#2e2e2e" stroke="#2e2e2e" stroke-width="0.14">100</text>
<text transform="translate(528.19,621.10) rotate(0.05)" font-size="11.07" text-anchor="middle" fill="#1c1c1c" stroke="#1c1c1c" stroke-width="0.14">C0</text>
<text transform="translate(554.17,621.10) rotate(0.05)" font-size="11.07" text-anchor="middle" fill="#1c1c1c" stroke="#1c1c1c" stroke-width="0.14">C1</text>
<text transform="translate(580.15,621.10) rotate(0.05)" font-size="11.07" text-anchor="middle" fill="#1c1c1c" stroke="#1c1c1c" stroke-width="0.14">C2</text>
<text transform="translate(606.13,621.10) rotate(0.05)" font-size="11.07" text-anchor="middle" fill="#1c1c1c" stroke="#1c1c1c" stroke-width="0.14">C3</text>
<text transform="translate(632.11,621.10) rotate(0.05)" font-size="11.07" text-anchor="middle" fill="#1c1c1c" stroke="#1c1c1c" stroke-width="0.14">C4</text>
<text transform="translate(650.05,557.20) rotate(0.05)" font-size="9.03" fill="#1c1c1c" stroke="#1c1c1c" stroke-width="0.34"><tspan font-weight="bold">Type</tspan></text>
<rect x="650.3" y="563.1" width="9.7" height="9.1" fill="#4DBBD5"/>
<text transform="translate(663.50,570.71) rotate(0.05)" font-size="9.00" fill="#1c1c1c" stroke="#1c1c1c" stroke-width="0.14">WT</text>
<rect x="650.3" y="573.3" width="9.7" height="9.3" fill="#E64B35"/>
<text transform="translate(663.50,581.01) rotate(0.05)" font-size="9.00" fill="#1c1c1c" stroke="#1c1c1c" stroke-width="0.14">HET</text>
<rect x="650.3" y="583.9" width="9.7" height="9.1" fill="#0A9D86"/>
<text transform="translate(663.50,591.51) rotate(0.05)" font-size="9.00" fill="#1c1c1c" stroke="#1c1c1c" stroke-width="0.14">HOM</text>
<text transform="translate(0.70,658.30) rotate(0.05) scale(0.96,1.04)" font-size="17.00" fill="#000" stroke="#000" stroke-width="0.19"><tspan font-weight="bold">g</tspan></text>
<text transform="translate(161.40,668.10) rotate(0.05)" font-size="10.65" text-anchor="middle" fill="#1c1c1c" stroke="#1c1c1c" stroke-width="0.14">SC3 (n = 2963)</text>
<rect x="91.4" y="747.3" width="140.1" height="116.7" fill="#4DBBD5"/>
<rect x="208.15" y="747.3" width="23.35" height="23.34" fill="#E64B35"/>
<rect x="184.8" y="770.64" width="23.35" height="23.34" fill="#E64B35"/>
<rect x="161.45" y="793.98" width="23.35" height="23.84" fill="#E64B35"/>
<rect x="208.15" y="793.98" width="23.35" height="23.84" fill="#E64B35"/>
<rect x="138.1" y="817.32" width="23.85" height="23.34" fill="#E64B35"/>
<rect x="161.45" y="817.32" width="23.85" height="23.34" fill="#E64B35"/>
<rect x="184.8" y="817.32" width="23.85" height="23.34" fill="#E64B35"/>
<rect x="208.15" y="817.32" width="23.35" height="23.34" fill="#E64B35"/>
<rect x="114.75" y="840.66" width="23.35" height="23.34" fill="#E64B35"/>
<line x1="114.75" y1="747.3" x2="114.75" y2="864" stroke="#fff" stroke-opacity="0.05" stroke-width="1"/>
<line x1="138.1" y1="747.3" x2="138.1" y2="864" stroke="#fff" stroke-opacity="0.05" stroke-width="1"/>
<line x1="161.45" y1="747.3" x2="161.45" y2="864" stroke="#fff" stroke-opacity="0.05" stroke-width="1"/>
<line x1="184.8" y1="747.3" x2="184.8" y2="864" stroke="#fff" stroke-opacity="0.05" stroke-width="1"/>
<line x1="208.15" y1="747.3" x2="208.15" y2="864" stroke="#fff" stroke-opacity="0.05" stroke-width="1"/>
<line x1="91.4" y1="770.64" x2="231.5" y2="770.64" stroke="#fff" stroke-opacity="0.05" stroke-width="1"/>
<line x1="91.4" y1="793.98" x2="231.5" y2="793.98" stroke="#fff" stroke-opacity="0.05" stroke-width="1"/>
<line x1="91.4" y1="817.32" x2="231.5" y2="817.32" stroke="#fff" stroke-opacity="0.05" stroke-width="1"/>
<line x1="91.4" y1="840.66" x2="231.5" y2="840.66" stroke="#fff" stroke-opacity="0.05" stroke-width="1"/>
<rect x="94.9" y="698.95" width="16.34" height="46.55" fill="#7f7f7f" stroke="#333" stroke-width="0.85"/>
<text transform="translate(103.08,697.95) rotate(0.05)" font-size="6.97" text-anchor="middle" fill="#1c1c1c" stroke="#1c1c1c" stroke-width="0.14">88</text>
<rect x="118.25" y="745.13" width="16.34" height="0.37" fill="#7f7f7f" stroke="#333" stroke-width="0.85"/>
<text transform="translate(126.43,744.13) rotate(0.05)" font-size="6.97" text-anchor="middle" fill="#1c1c1c" stroke="#1c1c1c" stroke-width="0.14">0.7</text>
<rect x="141.6" y="742.33" width="16.34" height="3.17" fill="#7f7f7f" stroke="#333" stroke-width="0.85"/>
<text transform="translate(149.78,741.33) rotate(0.05)" font-size="6.97" text-anchor="middle" fill="#1c1c1c" stroke="#1c1c1c" stroke-width="0.14">6</text>
<rect x="164.95" y="745.24" width="16.34" height="0.26" fill="#7f7f7f" stroke="#333" stroke-width="0.85"/>
<text transform="translate(173.12,744.24) rotate(0.05)" font-size="6.97" text-anchor="middle" fill="#1c1c1c" stroke="#1c1c1c" stroke-width="0.14">0.5</text>
<rect x="188.3" y="744.44" width="16.34" height="1.06" fill="#7f7f7f" stroke="#333" stroke-width="0.85"/>
<text transform="translate(196.47,743.44) rotate(0.05)" font-size="6.97" text-anchor="middle" fill="#1c1c1c" stroke="#1c1c1c" stroke-width="0.14">2</text>
<rect x="211.65" y="744.44" width="16.34" height="1.06" fill="#7f7f7f" stroke="#333" stroke-width="0.85"/>
<text transform="translate(219.82,743.44) rotate(0.05)" font-size="6.97" text-anchor="middle" fill="#1c1c1c" stroke="#1c1c1c" stroke-width="0.14">2</text>
<rect x="91.5" y="675.0" width="140" height="70.6" fill="none" stroke="#505050" stroke-width="0.95"/>
<line x1="89.3" y1="745.5" x2="91.5" y2="745.5" stroke="#555" stroke-width="0.8"/>
<text transform="translate(87.10,748.24) rotate(0.05)" font-size="6.50" text-anchor="end" fill="#2e2e2e" stroke="#2e2e2e" stroke-width="0.14">0</text>
<line x1="89.3" y1="719.05" x2="91.5" y2="719.05" stroke="#555" stroke-width="0.8"/>
<text transform="translate(87.10,721.79) rotate(0.05)" font-size="6.50" text-anchor="end" fill="#2e2e2e" stroke="#2e2e2e" stroke-width="0.14">50</text>
<line x1="89.3" y1="692.6" x2="91.5" y2="692.6" stroke="#555" stroke-width="0.8"/>
<text transform="translate(87.10,695.34) rotate(0.05)" font-size="6.50" text-anchor="end" fill="#2e2e2e" stroke="#2e2e2e" stroke-width="0.14">100</text>
<text transform="translate(73.40,710.30) rotate(-89.95)" font-size="9.78" text-anchor="middle" fill="#1c1c1c" stroke="#1c1c1c" stroke-width="0.14">Clone size in %</text>
<text transform="translate(88.50,761.67) rotate(0.05)" font-size="9.68" text-anchor="end" fill="#1c1c1c" stroke="#1c1c1c" stroke-width="0.14"><tspan font-style="italic">DNMT3A</tspan> p.I898S</text>
<text transform="translate(88.50,785.01) rotate(0.05)" font-size="9.68" text-anchor="end" fill="#1c1c1c" stroke="#1c1c1c" stroke-width="0.14"><tspan font-style="italic">IDH1</tspan> p.R132H</text>
<text transform="translate(88.50,808.35) rotate(0.05)" font-size="9.68" text-anchor="end" fill="#1c1c1c" stroke="#1c1c1c" stroke-width="0.14"><tspan font-style="italic">IDH2</tspan> p.R140Q</text>
<text transform="translate(88.43,831.69) rotate(0.05)" font-size="9.68" text-anchor="end" fill="#1c1c1c" stroke="#1c1c1c" stroke-width="0.14"><tspan font-style="italic">PPM1D</tspan> p.L484<tspan dx="0.98" dy="-1.94" font-size="6.97">*</tspan></text>
<text transform="translate(88.43,855.03) rotate(0.05)" font-size="9.68" text-anchor="end" fill="#1c1c1c" stroke="#1c1c1c" stroke-width="0.14"><tspan font-style="italic">PPM1D</tspan> p.L490<tspan dx="0.98" dy="-1.94" font-size="6.97">*</tspan></text>
<text transform="translate(103.08,873.60) rotate(0.05)" font-size="9.97" text-anchor="middle" fill="#1c1c1c" stroke="#1c1c1c" stroke-width="0.14">C0</text>
<text transform="translate(126.43,873.60) rotate(0.05)" font-size="9.97" text-anchor="middle" fill="#1c1c1c" stroke="#1c1c1c" stroke-width="0.14">C1</text>
<text transform="translate(149.78,873.60) rotate(0.05)" font-size="9.97" text-anchor="middle" fill="#1c1c1c" stroke="#1c1c1c" stroke-width="0.14">C2</text>
<text transform="translate(173.12,873.60) rotate(0.05)" font-size="9.97" text-anchor="middle" fill="#1c1c1c" stroke="#1c1c1c" stroke-width="0.14">C3</text>
<text transform="translate(196.47,873.60) rotate(0.05)" font-size="9.97" text-anchor="middle" fill="#1c1c1c" stroke="#1c1c1c" stroke-width="0.14">C4</text>
<text transform="translate(219.82,873.60) rotate(0.05)" font-size="9.97" text-anchor="middle" fill="#1c1c1c" stroke="#1c1c1c" stroke-width="0.14">C5</text>
<text transform="translate(380.50,668.50) rotate(0.05)" font-size="10.65" text-anchor="middle" fill="#1c1c1c" stroke="#1c1c1c" stroke-width="0.14">SC3AML (n = 2207)</text>
<rect x="307.5" y="747.3" width="140.1" height="116.7" fill="#4DBBD5"/>
<rect x="424.25" y="747.3" width="23.35" height="23.34" fill="#E64B35"/>
<rect x="400.9" y="770.64" width="23.35" height="23.34" fill="#E64B35"/>
<rect x="377.55" y="793.98" width="23.35" height="23.84" fill="#E64B35"/>
<rect x="424.25" y="793.98" width="23.35" height="23.84" fill="#E64B35"/>
<rect x="354.2" y="817.32" width="23.85" height="23.34" fill="#E64B35"/>
<rect x="377.55" y="817.32" width="23.85" height="23.34" fill="#E64B35"/>
<rect x="400.9" y="817.32" width="23.85" height="23.34" fill="#E64B35"/>
<rect x="424.25" y="817.32" width="23.35" height="23.34" fill="#E64B35"/>
<rect x="330.85" y="840.66" width="23.35" height="23.34" fill="#E64B35"/>
<line x1="330.85" y1="747.3" x2="330.85" y2="864" stroke="#fff" stroke-opacity="0.05" stroke-width="1"/>
<line x1="354.2" y1="747.3" x2="354.2" y2="864" stroke="#fff" stroke-opacity="0.05" stroke-width="1"/>
<line x1="377.55" y1="747.3" x2="377.55" y2="864" stroke="#fff" stroke-opacity="0.05" stroke-width="1"/>
<line x1="400.9" y1="747.3" x2="400.9" y2="864" stroke="#fff" stroke-opacity="0.05" stroke-width="1"/>
<line x1="424.25" y1="747.3" x2="424.25" y2="864" stroke="#fff" stroke-opacity="0.05" stroke-width="1"/>
<line x1="307.5" y1="770.64" x2="447.6" y2="770.64" stroke="#fff" stroke-opacity="0.05" stroke-width="1"/>
<line x1="307.5" y1="793.98" x2="447.6" y2="793.98" stroke="#fff" stroke-opacity="0.05" stroke-width="1"/>
<line x1="307.5" y1="817.32" x2="447.6" y2="817.32" stroke="#fff" stroke-opacity="0.05" stroke-width="1"/>
<line x1="307.5" y1="840.66" x2="447.6" y2="840.66" stroke="#fff" stroke-opacity="0.05" stroke-width="1"/>
<rect x="311" y="699.39" width="16.35" height="46.11" fill="#7f7f7f" stroke="#333" stroke-width="0.85"/>
<text transform="translate(319.18,698.39) rotate(0.05)" font-size="6.97" text-anchor="middle" fill="#1c1c1c" stroke="#1c1c1c" stroke-width="0.14">87</text>
<rect x="334.35" y="745.5" width="16.35" height="0" fill="#7f7f7f" stroke="#333" stroke-width="0.85"/>
<text transform="translate(342.52,744.50) rotate(0.05)" font-size="6.97" text-anchor="middle" fill="#1c1c1c" stroke="#1c1c1c" stroke-width="0.14">0</text>
<rect x="357.7" y="742.85" width="16.35" height="2.65" fill="#7f7f7f" stroke="#333" stroke-width="0.85"/>
<text transform="translate(365.88,741.85) rotate(0.05)" font-size="6.97" text-anchor="middle" fill="#1c1c1c" stroke="#1c1c1c" stroke-width="0.14">5</text>
<rect x="381.05" y="745.34" width="16.35" height="0.16" fill="#7f7f7f" stroke="#333" stroke-width="0.85"/>
<text transform="translate(389.23,744.34) rotate(0.05)" font-size="6.97" text-anchor="middle" fill="#1c1c1c" stroke="#1c1c1c" stroke-width="0.14">0.3</text>
<rect x="404.4" y="742.32" width="16.35" height="3.18" fill="#7f7f7f" stroke="#333" stroke-width="0.85"/>
<text transform="translate(412.58,741.32) rotate(0.05)" font-size="6.97" text-anchor="middle" fill="#1c1c1c" stroke="#1c1c1c" stroke-width="0.14">6</text>
<rect x="427.75" y="745.02" width="16.35" height="0.48" fill="#7f7f7f" stroke="#333" stroke-width="0.85"/>
<text transform="translate(435.93,744.02) rotate(0.05)" font-size="6.97" text-anchor="middle" fill="#1c1c1c" stroke="#1c1c1c" stroke-width="0.14">0.9</text>
<rect x="307.6" y="675.0" width="140" height="70.6" fill="none" stroke="#505050" stroke-width="0.95"/>
<line x1="305.4" y1="745.5" x2="307.6" y2="745.5" stroke="#555" stroke-width="0.8"/>
<text transform="translate(302.60,748.13) rotate(0.05)" font-size="6.20" text-anchor="end" fill="#2e2e2e" stroke="#2e2e2e" stroke-width="0.14">0</text>
<line x1="305.4" y1="719" x2="307.6" y2="719" stroke="#555" stroke-width="0.8"/>
<text transform="translate(302.60,721.63) rotate(0.05)" font-size="6.20" text-anchor="end" fill="#2e2e2e" stroke="#2e2e2e" stroke-width="0.14">50</text>
<line x1="305.4" y1="692.5" x2="307.6" y2="692.5" stroke="#555" stroke-width="0.8"/>
<text transform="translate(302.60,695.13) rotate(0.05)" font-size="6.20" text-anchor="end" fill="#2e2e2e" stroke="#2e2e2e" stroke-width="0.14">100</text>
<text transform="translate(319.18,873.60) rotate(0.05)" font-size="9.97" text-anchor="middle" fill="#1c1c1c" stroke="#1c1c1c" stroke-width="0.14">C0</text>
<text transform="translate(342.52,873.60) rotate(0.05)" font-size="9.97" text-anchor="middle" fill="#1c1c1c" stroke="#1c1c1c" stroke-width="0.14">C1</text>
<text transform="translate(365.88,873.60) rotate(0.05)" font-size="9.97" text-anchor="middle" fill="#1c1c1c" stroke="#1c1c1c" stroke-width="0.14">C2</text>
<text transform="translate(389.23,873.60) rotate(0.05)" font-size="9.97" text-anchor="middle" fill="#1c1c1c" stroke="#1c1c1c" stroke-width="0.14">C3</text>
<text transform="translate(412.58,873.60) rotate(0.05)" font-size="9.97" text-anchor="middle" fill="#1c1c1c" stroke="#1c1c1c" stroke-width="0.14">C4</text>
<text transform="translate(435.93,873.60) rotate(0.05)" font-size="9.97" text-anchor="middle" fill="#1c1c1c" stroke="#1c1c1c" stroke-width="0.14">C5</text>
<text transform="translate(452.25,797.00) rotate(0.05)" font-size="8.13" fill="#1c1c1c" stroke="#1c1c1c" stroke-width="0.34"><tspan font-weight="bold">Type</tspan></text>
<rect x="452.5" y="802.4" width="8.5" height="8.4" fill="#4DBBD5"/>
<text transform="translate(463.80,809.43) rotate(0.05)" font-size="8.32" fill="#1c1c1c" stroke="#1c1c1c" stroke-width="0.14">WT</text>
<rect x="452.5" y="812" width="8.5" height="8.3" fill="#E64B35"/>
<text transform="translate(463.80,818.98) rotate(0.05)" font-size="8.32" fill="#1c1c1c" stroke="#1c1c1c" stroke-width="0.14">MUT</text>
<line x1="243.0" y1="535.9" x2="266.0" y2="535.9" stroke="#1a1a1a" stroke-width="2.1"/><path d="M276.0,535.9 L265.0,530.8 L265.0,541 Z" fill="#1a1a1a"/><line x1="457.6" y1="535.9" x2="480.4" y2="535.9" stroke="#1a1a1a" stroke-width="2.1"/><path d="M490.8,535.9 L479.4,530.7 L479.4,541.1 Z" fill="#1a1a1a"/><line x1="251.1" y1="768.5" x2="274.1" y2="768.5" stroke="#1a1a1a" stroke-width="2.1"/><path d="M284.7,768.5 L273.1,763.2 L273.1,773.8 Z" fill="#1a1a1a"/>
</svg>
</body></html>
